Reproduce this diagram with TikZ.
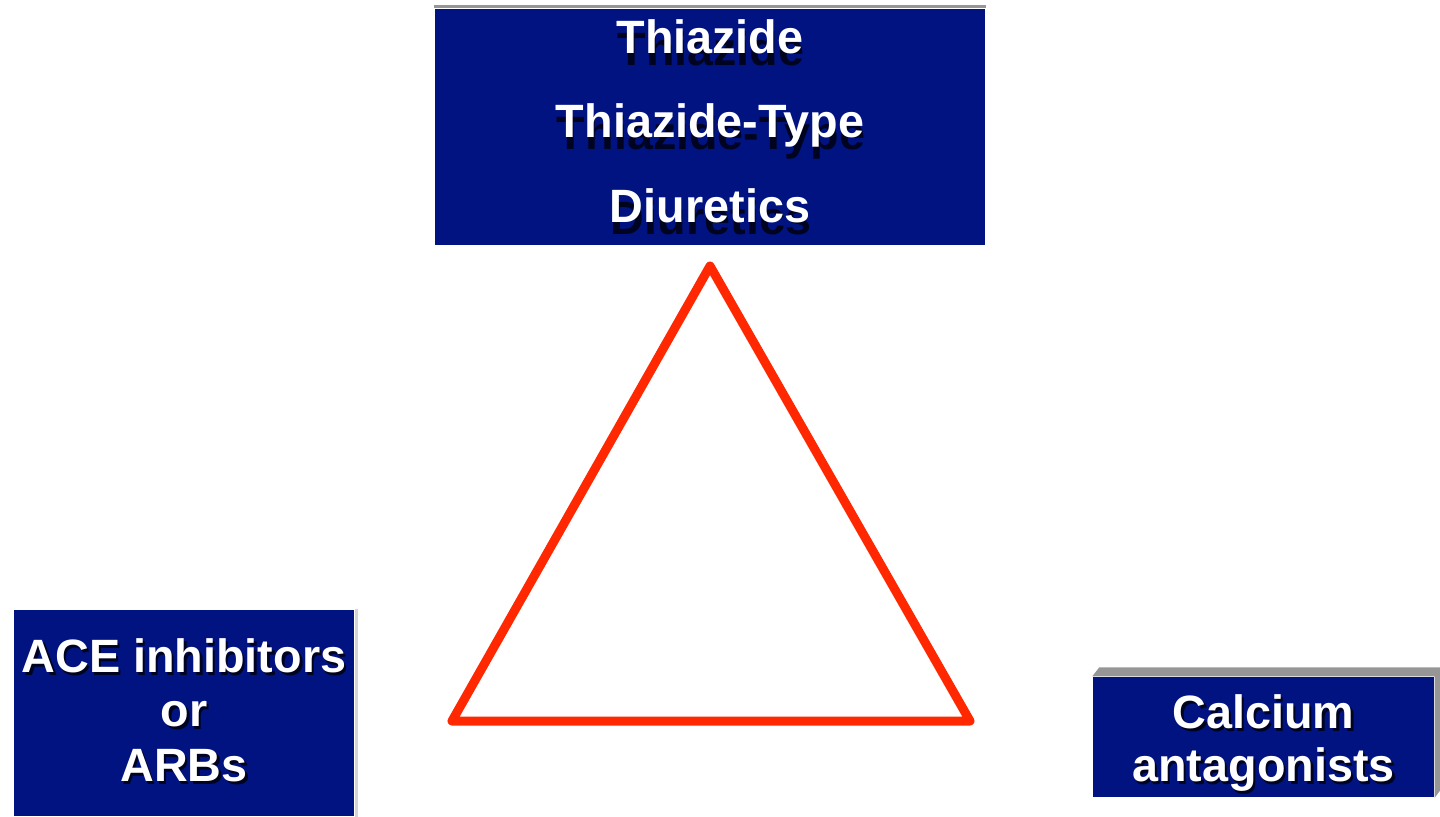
\documentclass[tikz,border=0pt]{standalone}
\usepackage{fontspec}
\setsansfont{Liberation Sans}
\usetikzlibrary{positioning,calc}
\definecolor{boxblue}{RGB}{0,19,128}
\definecolor{edgegray}{RGB}{150,150,150}
\definecolor{trired}{RGB}{255,40,0}
\tikzset{
    drug/.style={rectangle,draw=none,fill=boxblue,inner sep=0pt},
    drug text/.style={text=white,align=center,inner sep=0pt,font=\sffamily\bfseries\fontsize{13.3}{15.5}\selectfont},
    drug shadow/.style={drug text,text=black,text opacity=0.75},
    bevel/.style={fill=edgegray,draw=none},
}

\begin{document}
\begin{tikzpicture}[x=1cm,y=1cm,line join=round]
    \useasboundingbox (0,0) rectangle (14.4,8.16);

    % boxes
    \node[drug,minimum width=5.50cm,minimum height=2.36cm] (thiazide) at (7.10,6.89) {};
    \node[drug,minimum width=3.40cm,minimum height=2.06cm] (ace) at (1.84,1.03) {};
    \node[drug,minimum width=3.41cm,minimum height=1.20cm] (calcium) at (12.635,0.79) {};

    % grey edges
    \fill[bevel] ($(thiazide.north west)+(0,0.03)$) rectangle (thiazide.north east);
    \fill[bevel,opacity=0.4] (ace.north east) rectangle ($(ace.south east)+(0.03,0)$);
    \fill[bevel] (calcium.north west) -- ++(0.07,0.09) -- ($(calcium.north east)+(0.06,0.09)$)
        -- ($(calcium.south east)+(0.06,0.08)$) -- (calcium.south east) -- (calcium.north east) -- cycle;

    % texts
    \node[drug shadow,font=\sffamily\bfseries\fontsize{13.3}{24}\selectfont] at ($(7.10,6.95)+(0.01,-0.12)$) {Thiazide\\Thiazide-Type\\Diuretics};
    \node[drug text,font=\sffamily\bfseries\fontsize{13.3}{24}\selectfont] (thiazide label) at (7.10,6.95) {Thiazide\\Thiazide-Type\\Diuretics};
    \node[drug shadow] at ($(1.84,1.06)+(0.025,-0.03)$) {ACE inhibitors\\or\\ARBs};
    \node[drug text] (ace label) at (1.84,1.06) {ACE inhibitors\\or\\ARBs};
    \node[drug shadow,font=\sffamily\bfseries\fontsize{13.3}{15.3}\selectfont] at ($(12.635,0.73)+(0.025,-0.03)$) {Calcium\\antagonists};
    \node[drug text,font=\sffamily\bfseries\fontsize{13.3}{15.3}\selectfont] (calcium label) at (12.635,0.73) {Calcium\\antagonists};

    % triangle
    \coordinate (apex) at (7.10,5.50);
    \coordinate (left corner) at (4.52,0.95);
    \coordinate (right corner) at (9.70,0.95);
    \draw[trired,line width=0.09cm] (apex) -- (left corner) -- (right corner) -- cycle;
\end{tikzpicture}
\end{document}
